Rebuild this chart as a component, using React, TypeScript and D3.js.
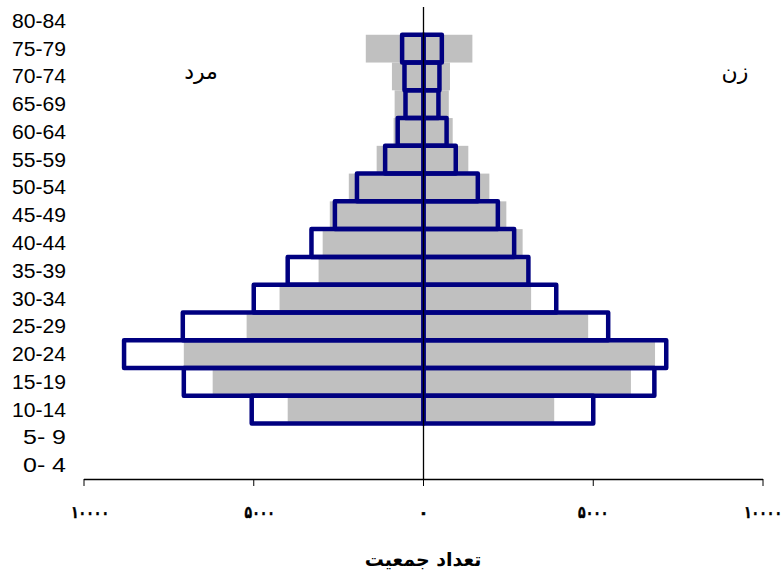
import React from 'react';
import * as d3 from 'd3';

const ageGroups = ['0- 4', '5- 9', '10-14', '15-19', '20-24', '25-29', '30-34', '35-39', '40-44', '45-49', '50-54', '55-59', '60-64', '65-69', '70-74', '75-79', '80-84'];
const maleGray = [0, 0, 4000, 6210, 7060, 5210, 4240, 3090, 2970, 2760, 2200, 1380, 880, 850, 930, 1700, 0];
const femaleGray = [0, 0, 3850, 6110, 6820, 4850, 3170, 3100, 2920, 2440, 1940, 1320, 860, 745, 780, 1440, 0];
const maleOutline = [0, 0, 5060, 7060, 8820, 7090, 5000, 4000, 3300, 2610, 1960, 1130, 760, 530, 560, 630, 0];
const femaleOutline = [0, 0, 5000, 6800, 7150, 5440, 3910, 3090, 2670, 2190, 1600, 950, 680, 440, 470, 540, 0];
const xTicks = [-10000, -5000, 0, 5000, 10000];
const xTickLabels = ['۱۰۰۰۰', '۵۰۰۰', '۰', '۵۰۰۰', '۱۰۰۰۰'];
const maleLabel = 'مرد';
const femaleLabel = 'زن';
const axisTitle = 'تعداد جمعیت';

const W = 782;
const H = 571;
const x = d3.scaleLinear().domain([-10000, 10000]).range([84, 763]);
const y = d3.scaleBand<string>().domain(ageGroups).range([479, 7]).padding(0);

export default function App() {
  const bw = y.bandwidth();
  const bars = (vals: number[], side: number) =>
    vals.map((v, i) => ({ v, i, x0: side < 0 ? x(-v) : x(0), x1: side < 0 ? x(0) : x(v), y0: y(ageGroups[i]) as number }))
      .filter(d => d.v > 0);
  const grayBars = [...bars(maleGray, -1), ...bars(femaleGray, 1)];
  const navyBars = [...bars(maleOutline, -1), ...bars(femaleOutline, 1)];
  return (
    <svg width={W} height={H} style={{ position: 'absolute', left: 0, top: 0, background: '#fff' }}>
      {grayBars.map((d, k) => (
        <rect key={'g' + k} x={d.x0} y={d.y0} width={d.x1 - d.x0} height={bw} fill="#C0C0C0" />
      ))}
      {navyBars.map((d, k) => (
        <rect key={'n' + k} x={d.x0} y={d.y0} width={d.x1 - d.x0} height={bw} fill="none" stroke="#000080" strokeWidth={4.5} strokeLinejoin="round" />
      ))}
      <line x1={x(0)} x2={x(0)} y1={7} y2={479} stroke="#000" strokeWidth={1.3} />
      <line x1={x(-10000)} x2={x(10000)} y1={479.5} y2={479.5} stroke="#000" strokeWidth={1.3} />
      {xTicks.map((t, i) => (
        <g key={'t' + i}>
          <line x1={x(t)} x2={x(t)} y1={479} y2={486} stroke="#000" strokeWidth={1} />
          <text x={x(t) + (t < 0 ? 6 : 0)} y={518} textAnchor="middle" fontFamily="'DejaVu Sans', sans-serif" fontWeight="bold" fontSize={17}
            stroke="#000" strokeWidth={0.4}
            textLength={xTickLabels[i].length > 1 ? xTickLabels[i].length * 7.6 : undefined} lengthAdjust="spacingAndGlyphs">
            {xTickLabels[i]}
          </text>
        </g>
      ))}
      {ageGroups.map((g) => (
        <text key={g} x={66} y={(y(g) as number) + bw / 2 + 7} textAnchor="end" fontFamily="'Liberation Sans', Arial, sans-serif" fontSize={19.5} fill="#000"
          textLength={(g.length === 5 ? 54 : 43)} lengthAdjust="spacingAndGlyphs">
          {g}
        </text>
      ))}
      <text x={201} y={79} textAnchor="middle" fontFamily="'DejaVu Sans', sans-serif" fontSize={22} direction="rtl">{maleLabel}</text>
      <text x={735} y={79} textAnchor="middle" fontFamily="'DejaVu Sans', sans-serif" fontSize={22} direction="rtl">{femaleLabel}</text>
      <text x={423} y={566} textAnchor="middle" fontFamily="'DejaVu Sans', sans-serif" fontWeight="bold" fontSize={19} direction="rtl">{axisTitle}</text>
    </svg>
  );
}
